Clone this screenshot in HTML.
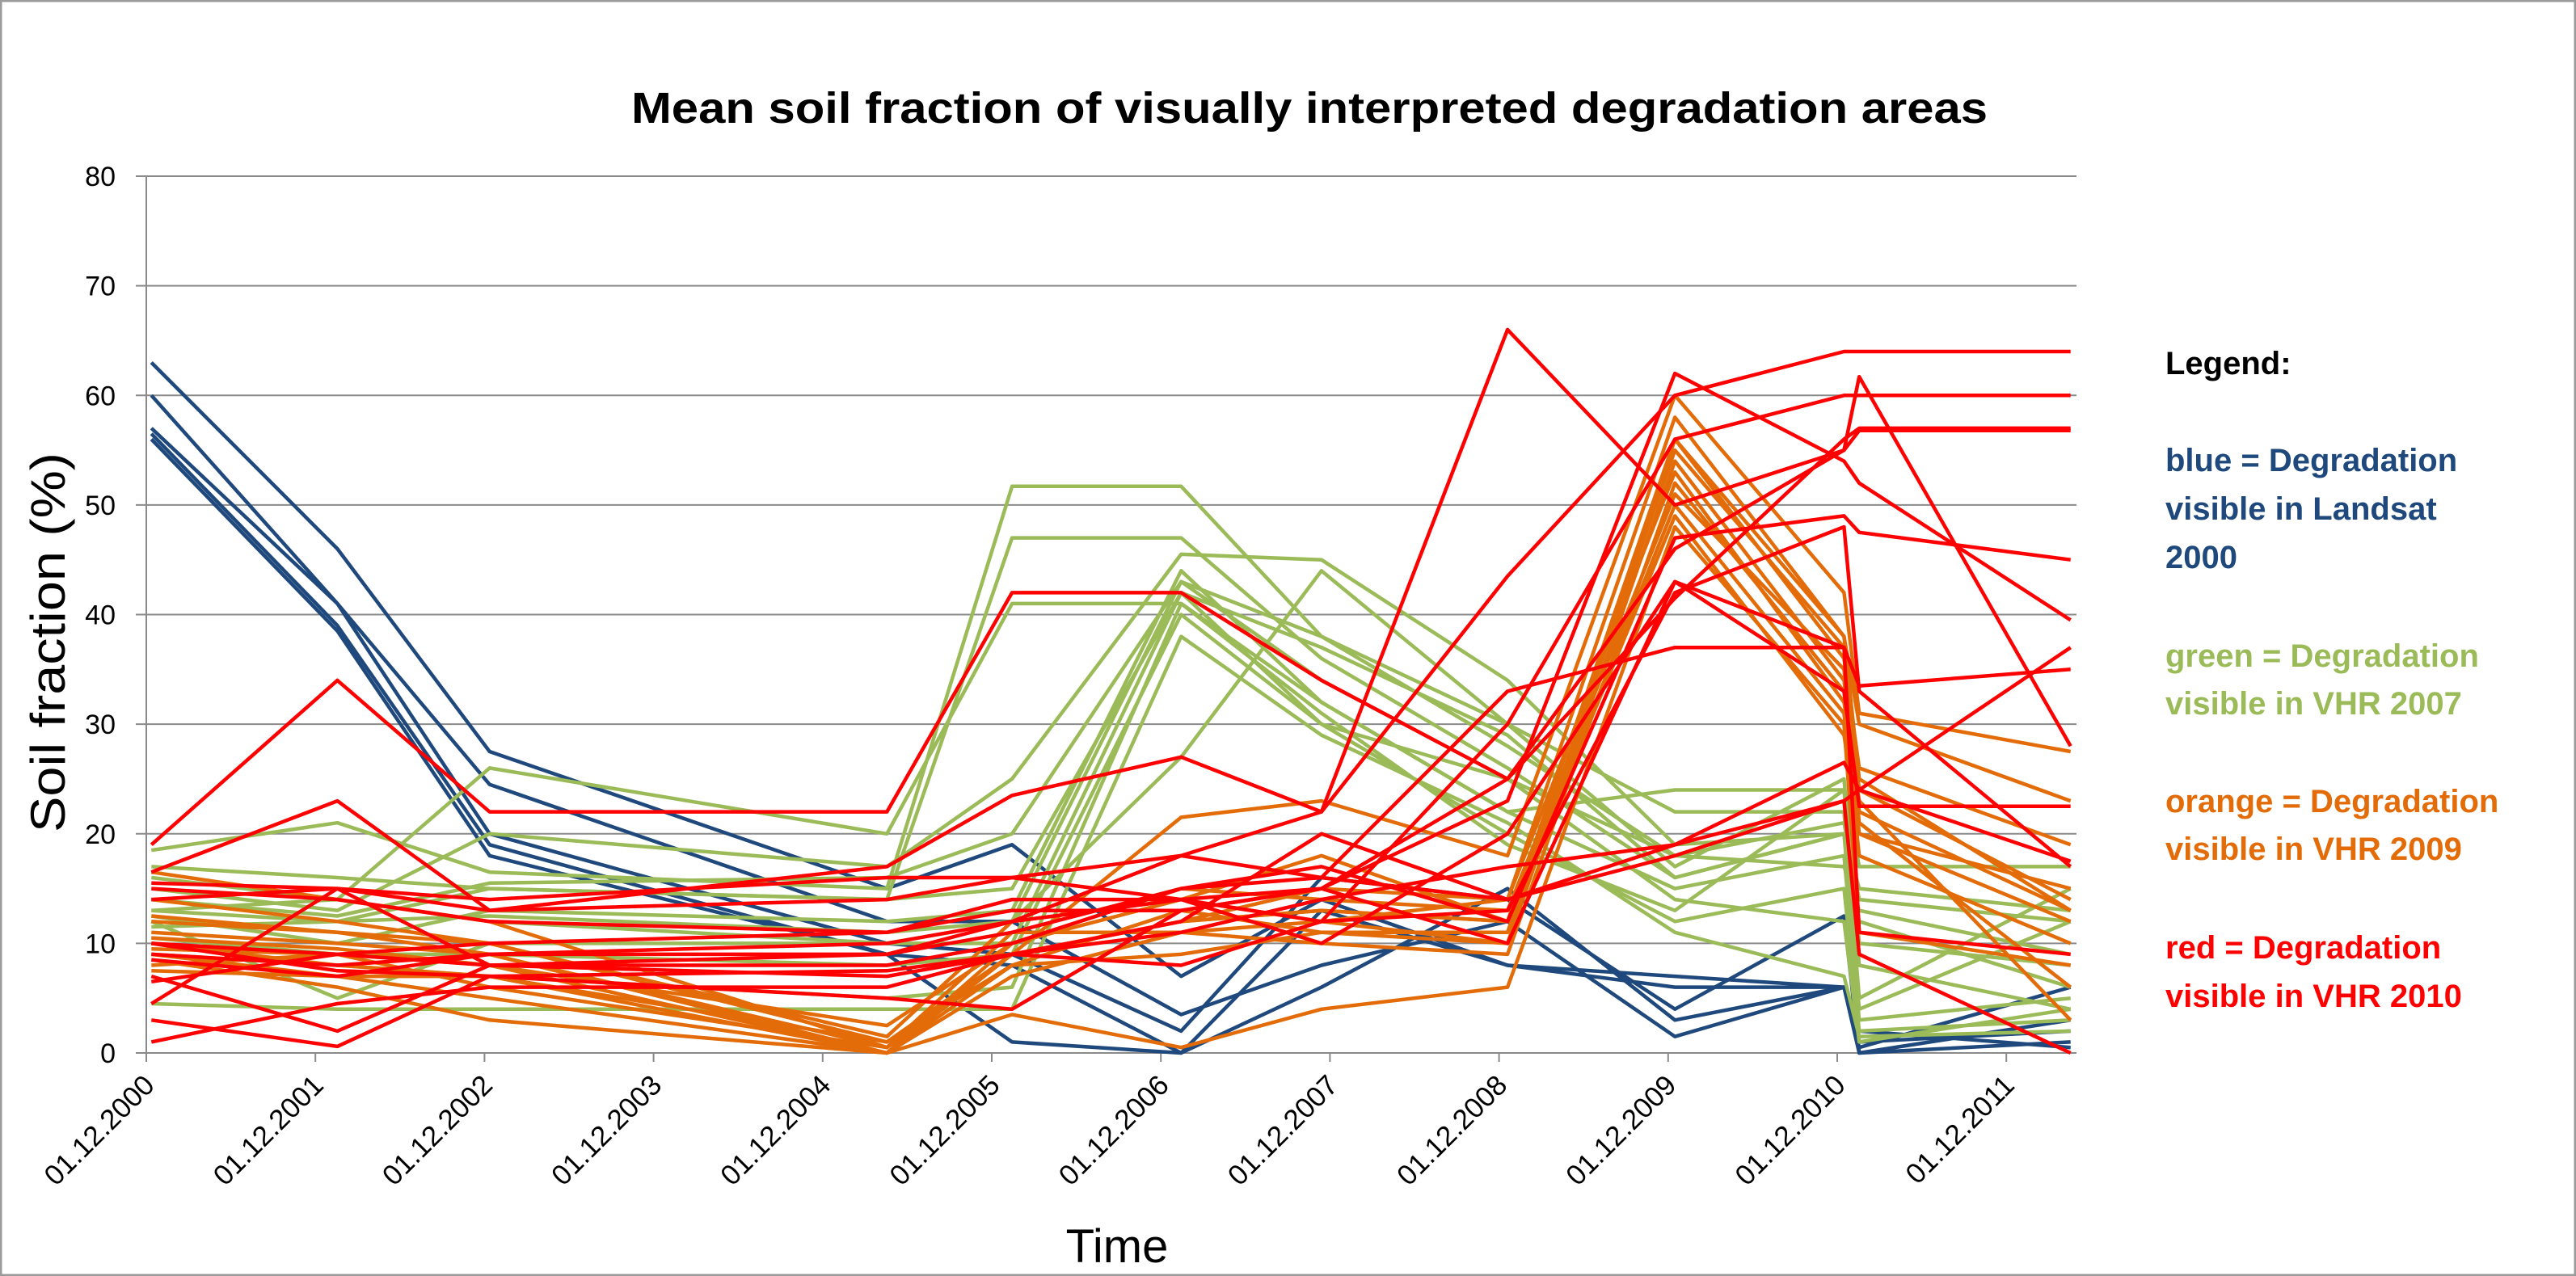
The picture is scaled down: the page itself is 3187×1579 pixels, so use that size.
<!DOCTYPE html>
<html><head><meta charset="utf-8"><style>
html,body{margin:0;padding:0;background:#fff;}
svg{display:block;font-family:"Liberation Sans",sans-serif;}
</style></head><body>
<svg id="chart" width="3187" height="1579" viewBox="0 0 3187 1579" xmlns="http://www.w3.org/2000/svg">
<rect x="1" y="1" width="3185" height="1577" fill="#fff" stroke="#9a9a9a" stroke-width="3"/>
<text x="1620" y="152" text-anchor="middle" font-size="54" font-weight="bold" textLength="1678" lengthAdjust="spacingAndGlyphs">Mean soil fraction of visually interpreted degradation areas</text>
<g id="grid"></g>
<g id="yticks"></g>
<g id="xticks"></g>
<g id="series"></g>
<text transform="translate(80,795) rotate(-90)" text-anchor="middle" font-size="60" textLength="470" lengthAdjust="spacingAndGlyphs">Soil fraction (%)</text>
<text x="1382" y="1562" text-anchor="middle" font-size="58">Time</text>
<g font-weight="bold" font-size="40">
<text x="2679" y="463" fill="#000">Legend:</text>
<text fill="#1F497D"><tspan x="2679" y="583">blue = Degradation</tspan><tspan x="2679" y="643">visible in Landsat</tspan><tspan x="2679" y="703">2000</tspan></text>
<text fill="#9BBB59"><tspan x="2679" y="825">green = Degradation</tspan><tspan x="2679" y="884">visible in VHR  2007</tspan></text>
<text fill="#E36C09"><tspan x="2679" y="1005">orange = Degradation</tspan><tspan x="2679" y="1064">visible in VHR 2009</tspan></text>
<text fill="#FF0000"><tspan x="2679" y="1186">red = Degradation</tspan><tspan x="2679" y="1246">visible in VHR 2010</tspan></text>
</g>
</svg>
<script>
// observation times (years after 01.12.2000)
const times = [0.03, 1.13, 2.03, 4.38, 5.12, 6.12, 6.95, 8.05, 9.04, 10.04, 10.13, 11.38];
const xTickLabels = ["01.12.2000","01.12.2001","01.12.2002","01.12.2003","01.12.2004","01.12.2005","01.12.2006","01.12.2007","01.12.2008","01.12.2009","01.12.2010","01.12.2011"];
const yTickValues = [0,10,20,30,40,50,60,70,80];
const blueSeries = [
 [63,46,27.5,15,19,7,14,8,7,6,0.5,6],
 [60,41,24.5,12,12,3.5,8,12,1.5,6,1,2],
 [57,41,20,10,9,2,16,14,4,12.5,0,3],
 [56.5,39,19,9,8,0,6,15,3,6,2,0.5],
 [56,38.5,18,9,1,0,13,8,6,6,0,1]
];
const greenSeries = [
 [18.5,21,16.5,15,51.7,51.7,38,28,18,17,13,9],
 [17,16,15,14,47,47,36,26,16,20,12,6],
 [16,14,26,20,41,41,32,22,24,24,17,17],
 [15,13,20,17,25,45.5,45,34,19,20,15,13],
 [14,12.5,15.5,16,20,43,38,30,17,25,10,8],
 [13,12,15,14,15,42,37,29,16,20,4,12],
 [12.5,10,13,12,13,44,32,22,15,18,3,5],
 [12,5,10,10,10,42,30,20,12,15,2,3],
 [11.5,12,12.5,11,12,27,44,30,22,22,5,15],
 [10.5,9,9,8,9,40,30,25,14,12,1,4],
 [4.5,4,4,4,4,38,29,21,11,7,1.5,2],
 [13,14,12,10,12,43,34,25,18,21,14,12],
 [9,8,7,5,6,41,31,19,13,24,8,4]
];
const orangeSeries = [
 [16.5,14,12,0.5,9,21.5,23,18,60,42,31,27.5],
 [12,11,9,0,10,14,12,14,58,38,30,23],
 [11,10,9,0.5,9,12,13,12,56,36,26,19],
 [10.5,9.5,8,0,8,13,11,11,55,37,24,14],
 [10,8,7,0,7,11,12,10,54,34,22,13],
 [9.5,9,6,0.5,11,11,10,9,52,33,20,12],
 [9,7,5,0,9,12,13,12,50,31,18,10],
 [8.5,6,3,0,3.5,0.5,4,6,48,30,11,8],
 [8,9,8,2.5,10,15,14,13,51,35,21,6],
 [7.5,7,7,1,9,12,15,14,53,32,23,3],
 [12.5,11,10,1,8,9,11,10,56,38,25,13],
 [14,12,10,1.5,12,14,18,12,49,29,20,15]
];
const redSeries = [
 [19,34,22,22,42,42,34,25,41.5,56,57,57],
 [16.5,23,13,17,23.5,27,22,66,50,55,56.8,56.8],
 [15.5,15,13,14,16,18,22,43.5,60,64,64,64],
 [15,14,12,11,14,14,15,23,62,54,52,39.5],
 [14,15,14,16,16,14,12,30,56,60,60,60],
 [10,9,10,11,13,13,15,25,46,55,61.7,28],
 [9,8,9,10,12,18,16,33,37,37,33.5,35],
 [8.5,7,9,9,11,15,17,12,47,49,47.5,45],
 [7,2,8,9,12,14,10,20,43,33,22.5,22.5],
 [6.5,9,8,8,10,15,16,14,19,26.5,24,17.5],
 [4.5,15,8,7,9,12,20,14,18,23,24,37],
 [3,0.6,7,7.5,9,11,14,17,19,23,9,0],
 [1,4.5,6,6,9,8,12,13,42,48,33,17],
 [10,7.5,7,5,4,13,15,10,43,37,11,9]
];
const NS = "http://www.w3.org/2000/svg";
const X0 = 181, XPER = 209.2, XEND = 2569, Y0 = 1303, YTOP = 218;
function xScale(t){ return X0 + t * XPER; }
function yScale(v){ return Y0 - v / 80 * (Y0 - YTOP); }
function mk(tag, attrs, parent){ const e = document.createElementNS(NS, tag); for (const k in attrs) e.setAttribute(k, attrs[k]); parent.appendChild(e); return e; }
const grid = document.getElementById('grid');
const yt = document.getElementById('yticks');
yTickValues.forEach(v => {
  const y = yScale(v);
  const l = mk('line', {x1:168, x2:XEND, y1:y, y2:y, stroke:'#8a8a8a', 'stroke-width':2}, grid);
  
  
  const t = mk('text', {x:143, y:y+12, 'text-anchor':'end', 'font-size':34}, yt);
  
  
  t.textContent = v;
});
const ax = mk('line', {x1:X0, x2:X0, y1:YTOP, y2:Y0+10, stroke:'#8a8a8a', 'stroke-width':2}, grid);


const xt = document.getElementById('xticks');
xTickLabels.forEach((lab, i) => {
  const x = xScale(i);
  const tk = mk('line', {x1:x, x2:x, y1:Y0, y2:Y0+11, stroke:'#8a8a8a', 'stroke-width':2}, xt);
  
  
  const t = mk('text', {x:x+12, y:Y0+42, 'text-anchor':'end', 'font-size':35, transform:'rotate(-45 '+(x+12)+' '+(Y0+42)+')'}, xt);
  
  
  t.textContent = lab;
});
const sg = document.getElementById('series');
function drawGroup(data, color, name){
  data.forEach(vals => {
    const pts = vals.map((v, i) => xScale(times[i]).toFixed(1) + ',' + yScale(v).toFixed(1)).join(' ');
    const p = mk('polyline', {points:pts, fill:'none', stroke:color, 'stroke-width':4.5, 'stroke-linejoin':'round'}, sg);
    
    
  });
}
drawGroup(blueSeries, '#1F497D', 'blue-series-line');
drawGroup(greenSeries, '#9BBB59', 'green-series-line');
drawGroup(orangeSeries, '#E36C09', 'orange-series-line');
drawGroup(redSeries, '#FF0000', 'red-series-line');
</script>
</body></html>
